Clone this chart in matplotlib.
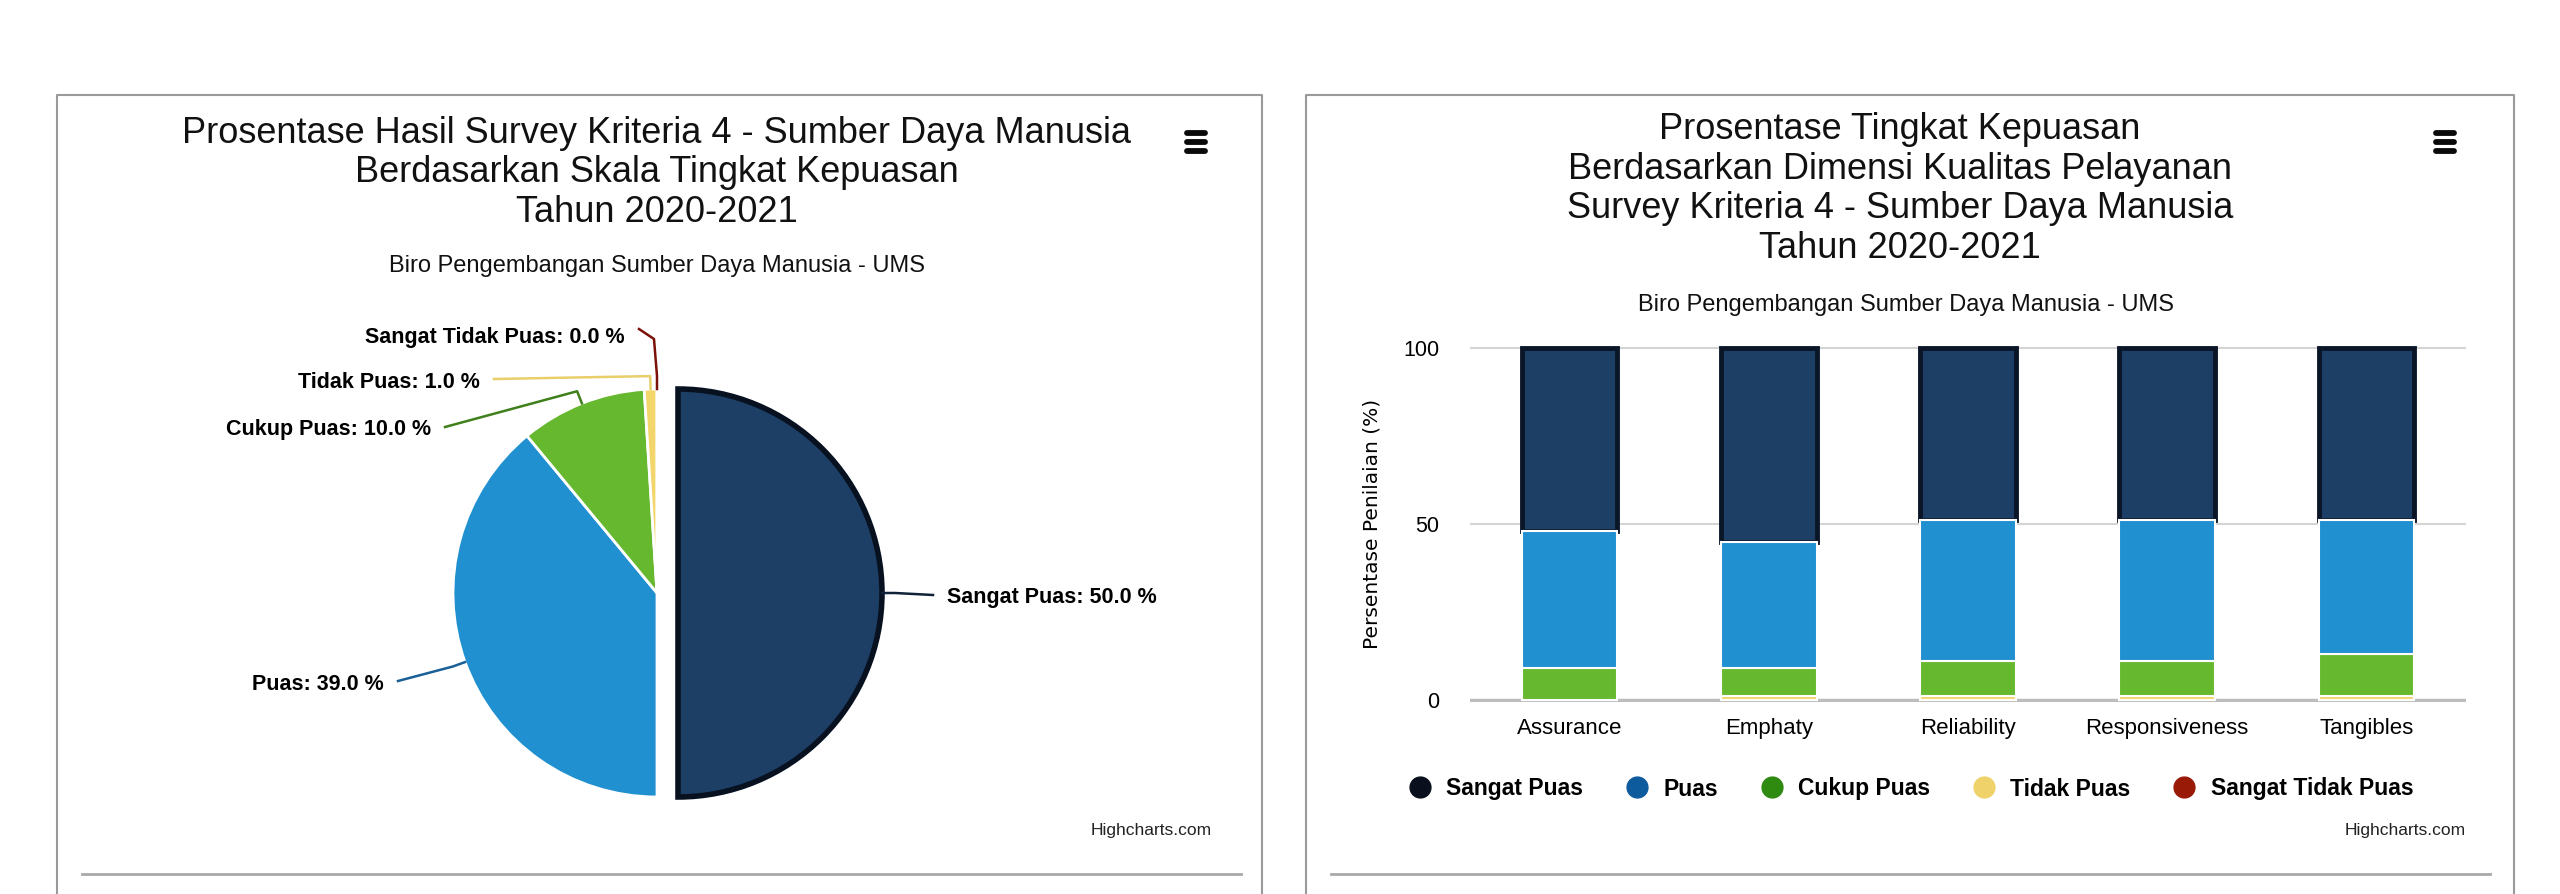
import numpy as np
import matplotlib.pyplot as plt
from matplotlib.lines import Line2D

plt.rcParams['font.family'] = ['Liberation Sans', 'DejaVu Sans']

W, H = 2560, 894

# ---- pie data ----
pie_labels = ['Sangat Puas', 'Puas', 'Cukup Puas', 'Tidak Puas', 'Sangat Tidak Puas']
pie_values = [50.0, 39.0, 10.0, 1.0, 0.0]

# ---- stacked bar data ----
categories = ['Assurance', 'Emphaty', 'Reliability', 'Responsiveness', 'Tangibles']
sangat_puas = [52, 55, 49, 49, 49]
puas = [39, 36, 40, 40, 38]
cukup_puas = [9, 8, 10, 10, 12]
tidak_puas = [0, 1, 1, 1, 1]
sangat_tidak_puas = [0, 0, 0, 0, 0]

colors = ['#1d3f66', '#2190d0', '#66b82e', '#f2d56b', '#9a1b0b']
conn_colors = ['#0f2238', '#1a5f96', '#3f7f1c', '#e8cf6a', '#7a1208']
legend_colors = ['#0a0f1e', '#0d5a9c', '#2f8a10', '#f0d26a', '#9a1a08']

fig = plt.figure(figsize=(25.6, 8.94), dpi=100)
ax0 = fig.add_axes([0, 0, 1, 1])


def fy(y):
    # pixel row (from top) -> data y (from bottom)
    return H - y


# panel frames
for x0, x1 in [(57, 1262), (1306, 2514)]:
    ax0.plot([x0, x0, x1, x1], [fy(894), fy(95), fy(95), fy(894)], color='#9a9a9a', lw=1.5)
for x0, x1 in [(82, 1241), (1331, 2490)]:
    ax0.plot([x0, x1], [fy(874), fy(874)], color='#a8a8a8', lw=2)

# hamburger icons
for xc in [1196, 2445]:
    for yy in [133, 142, 151]:
        ax0.plot([xc - 9, xc + 9], [fy(yy), fy(yy)], color='#0a0a0a', lw=4.2,
                 solid_capstyle='round')

# titles
ax0.text(657, fy(173), 'Prosentase Hasil Survey Kriteria 4 - Sumber Daya Manusia\n'
         'Berdasarkan Skala Tingkat Kepuasan\nTahun 2020-2021',
         ha='center', va='center', fontsize=26, color='#111111', linespacing=1.17)
ax0.text(657, fy(266), 'Biro Pengembangan Sumber Daya Manusia - UMS',
         ha='center', va='center', fontsize=17, color='#111111')
ax0.text(1900, fy(189), 'Prosentase Tingkat Kepuasan\nBerdasarkan Dimensi Kualitas Pelayanan\n'
         'Survey Kriteria 4 - Sumber Daya Manusia\nTahun 2020-2021',
         ha='center', va='center', fontsize=26, color='#111111', linespacing=1.17)
ax0.text(1906, fy(305), 'Biro Pengembangan Sumber Daya Manusia - UMS',
         ha='center', va='center', fontsize=17, color='#111111')

for xr in [1212, 2466]:
    ax0.text(xr, fy(831), 'Highcharts.com', ha='right', va='center', fontsize=12.5, color='#222222')

# ---- pie ----
cx, cy, R = 657, fy(593), 204
wedges, _ = ax0.pie(pie_values, colors=colors, startangle=90, counterclock=False,
                    center=(cx, cy), radius=R, explode=[21, 0, 0, 0, 0],
                    wedgeprops=dict(edgecolor='white', linewidth=2))
wedges[0].set_edgecolor('#07111f')
wedges[0].set_linewidth(4)

# label layout (text anchor x, pixel row, alignment)
label_pos = [(947, 598, 'left'), (384, 684, 'right'), (431, 430, 'right'),
             (480, 382, 'right'), (625, 337, 'right')]
total = sum(pie_values)
start = 90.0
for i, (lab, val) in enumerate(zip(pie_labels, pie_values)):
    sweep = 360.0 * val / total
    mid = np.radians(start - sweep / 2)
    start -= sweep
    ox = cx + (21 * np.cos(mid) if i == 0 else 0)
    oy = cy + (21 * np.sin(mid) if i == 0 else 0)
    ex, ey = ox + R * np.cos(mid), oy + R * np.sin(mid)
    bx, by = ox + (R + 13) * np.cos(mid), oy + (R + 13) * np.sin(mid)
    tx, ty, ha = label_pos[i]
    gap = -14 if ha == 'left' else 14
    if i == 4:
        pts_x, pts_y = [tx + gap, bx - 3, bx, ex], [fy(ty) + 8, fy(ty) - 2, by, ey]
    else:
        pts_x, pts_y = [tx + gap, bx, ex], [fy(ty) + 3, by, ey]
    ax0.plot(pts_x, pts_y, color=conn_colors[i], lw=1.8)
    ax0.text(tx, fy(ty), f'{lab}: {val:.1f} %', ha=ha, va='center',
             fontsize=15.5, fontweight='bold', color='#000000')

ax0.set_xlim(0, W)
ax0.set_ylim(0, H)
ax0.axis('off')

# ---- stacked bars ----
unit = 352 / 100.0
left, right = 1470, 2466
top, bottom = 348 - 0.5 * unit, 700 + 0.5 * unit
ax = fig.add_axes([left / W, (H - bottom) / H, (right - left) / W, (bottom - top) / H])
ax.set_facecolor('none')

x = np.arange(len(categories))
series = [sangat_tidak_puas, tidak_puas, cukup_puas, puas, sangat_puas]
ser_colors = colors[::-1]
base = np.zeros(len(categories))
for vals, col in zip(series, ser_colors):
    vals = np.array(vals, dtype=float)
    if col == colors[0]:
        ax.bar(x, vals, 0.48, bottom=base, color=col, edgecolor='#0a1628', linewidth=3.5, zorder=2)
    else:
        ax.bar(x, vals, 0.48, bottom=base, color=col, edgecolor='white', linewidth=1.5, zorder=3)
    base += vals

ax.set_xlim(-0.5, 4.5)
ax.set_ylim(-0.5, 100.5)
ax.set_yticks([0, 50, 100])
ax.set_yticklabels(['0', '50', '100'], fontsize=15.5)
ax.set_xticks(x)
ax.set_xticklabels(categories, fontsize=16)
ax.tick_params(length=0, pad=12)
ax.tick_params(axis='y', pad=22)
for s in ['top', 'right', 'left', 'bottom']:
    ax.spines[s].set_visible(False)
for yv in [50, 100]:
    ax.axhline(yv, color='#d4d4d4', lw=1.5, zorder=1)
ax.axhline(0, color='#bdbdbd', lw=2.5, zorder=1)
ax.set_ylabel('Persentase Penilaian (%)', fontsize=14.5, family='DejaVu Sans', labelpad=16)

handles = [Line2D([], [], marker='o', ls='', markersize=15, markerfacecolor=c,
                  markeredgecolor=c) for c in legend_colors]
fig.legend(handles, pie_labels, loc='center', bbox_to_anchor=(1905 / W, (H - 789) / H),
           ncol=5, frameon=False, prop=dict(size=16.5, weight='bold'),
           handletextpad=0.15, columnspacing=1.35)

fig.savefig('out.png', dpi=100)
